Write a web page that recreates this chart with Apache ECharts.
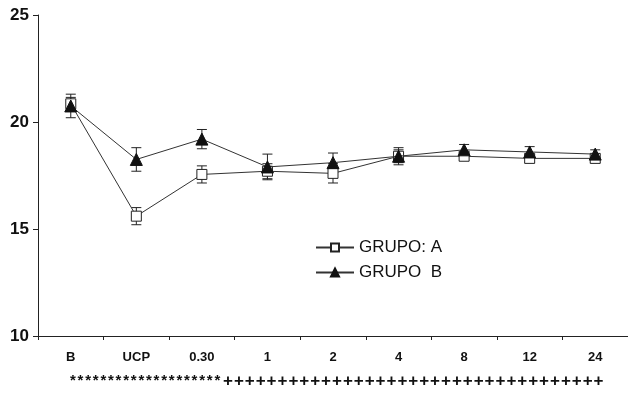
<!DOCTYPE html>
<html>
<head>
  <meta charset="utf-8">
  <title>GRUPO A / GRUPO B</title>
  <script src="https://cdn.jsdelivr.net/npm/echarts@6/dist/echarts.min.js"></script>
  <style>
    html, body { margin: 0; padding: 0; background: #fff; }
  </style>
</head>
<body>
  <div id="main" style="width:628px;height:395px;"></div>
  <script type="text/javascript">
    // datos
    var categorias = ['B', 'UCP', '0.30', '1', '2', '4', '8', '12', '24'];
    var grupoA = [20.85, 15.6, 17.55, 17.7, 17.6, 18.4, 18.4, 18.3, 18.3];
    var errorA = [0.3, 0.4, 0.4, 0.35, 0.45, 0.3, 0.2, 0.2, 0.2];
    var grupoB = [20.75, 18.25, 19.2, 17.9, 18.1, 18.4, 18.7, 18.6, 18.5];
    var errorB = [0.55, 0.55, 0.45, 0.6, 0.45, 0.4, 0.25, 0.25, 0.2];
    var ticksY = [10, 15, 20, 25];
    var fila = { estrellas: 20, cruces: 35 };

    var myChart = echarts.init(document.getElementById('main'));

    function barras(valores, errores) {
      return valores.map(function (v, i) {
        return [i, v - errores[i], v + errores[i]];
      });
    }

    function dibujarError(params, api) {
      var x = api.value(0);
      var bajo = api.coord([x, api.value(1)]);
      var alto = api.coord([x, api.value(2)]);
      var w = 5;
      var estilo = { stroke: '#222', lineWidth: 1 };
      return {
        type: 'group',
        children: [
          { type: 'line', shape: { x1: alto[0], y1: alto[1], x2: bajo[0], y2: bajo[1] }, style: estilo },
          { type: 'line', shape: { x1: alto[0] - w, y1: alto[1], x2: alto[0] + w, y2: alto[1] }, style: estilo },
          { type: 'line', shape: { x1: bajo[0] - w, y1: bajo[1], x2: bajo[0] + w, y2: bajo[1] }, style: estilo }
        ]
      };
    }

    // fila de simbolos debajo del eje
    var marcas = [];
    for (var i = 0; i < fila.estrellas; i++) {
      marcas.push({ type: 'text', left: 70 + i * 7.6, top: 373,
        style: { text: '*', font: 'bold 15px Arial', fill: '#111' } });
    }
    for (var j = 0; j < fila.cruces; j++) {
      marcas.push({ type: 'text', left: 223 + j * 10.9, top: 373,
        style: { text: '+', font: 'bold 17px Arial', fill: '#111' } });
    }

    var option = {
      animation: false,
      backgroundColor: '#fff',
      grid: { left: 38, right: 0, top: 15, bottom: 59 },
      legend: {
        orient: 'vertical',
        left: 310,
        top: 234,
        itemWidth: 38,
        itemHeight: 10,
        itemGap: 8,
        textStyle: { fontFamily: 'Arial', fontSize: 17, color: '#111' },
        data: ['GRUPO: A', 'GRUPO  B']
      },
      xAxis: {
        type: 'category',
        data: categorias,
        boundaryGap: true,
        axisLine: { lineStyle: { color: '#222', width: 1 } },
        axisTick: { show: true, length: 4, lineStyle: { color: '#222' } },
        axisLabel: { margin: 15, fontFamily: 'Arial', fontWeight: 'bold', fontSize: 13, color: '#111' },
        splitLine: { show: false }
      },
      yAxis: {
        type: 'value',
        min: ticksY[0],
        max: ticksY[ticksY.length - 1],
        interval: 5,
        axisLine: { show: true, lineStyle: { color: '#222', width: 1 } },
        axisTick: { show: true, length: 5, lineStyle: { color: '#222' } },
        axisLabel: { margin: 9, fontFamily: 'Arial', fontWeight: 'bold', fontSize: 17, color: '#111' },
        splitLine: { show: false }
      },
      graphic: marcas,
      series: [
        {
          type: 'custom',
          renderItem: dibujarError,
          data: barras(grupoA, errorA),
          z: 1,
          silent: true
        },
        {
          type: 'custom',
          renderItem: dibujarError,
          data: barras(grupoB, errorB),
          z: 1,
          silent: true
        },
        {
          name: 'GRUPO: A',
          type: 'line',
          data: grupoA,
          symbol: 'rect',
          symbolSize: 10,
          showAllSymbol: true,
          lineStyle: { color: '#333', width: 1 },
          itemStyle: { color: '#fff', borderColor: '#222', borderWidth: 1 },
          z: 3
        },
        {
          name: 'GRUPO  B',
          type: 'line',
          data: grupoB,
          symbol: 'triangle',
          symbolSize: 12,
          showAllSymbol: true,
          lineStyle: { color: '#333', width: 1 },
          itemStyle: { color: '#111', borderColor: '#111', borderWidth: 1 },
          z: 4
        }
      ]
    };

    myChart.setOption(option);
  </script>
</body>
</html>
